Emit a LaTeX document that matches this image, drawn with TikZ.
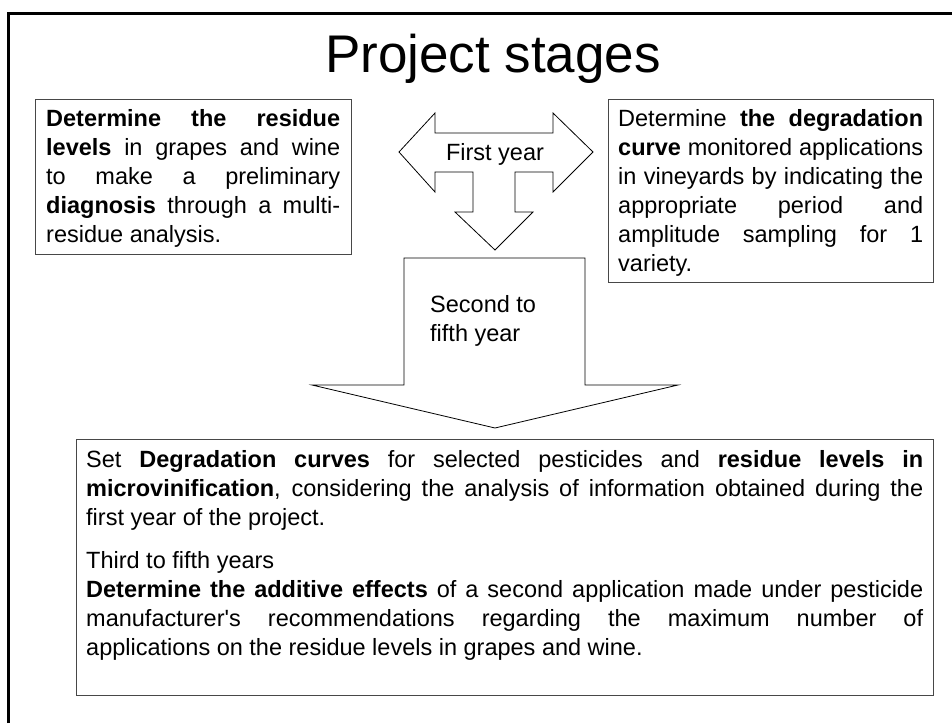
\documentclass[tikz,border=0pt]{standalone}
\usepackage{fontspec}
\setmainfont{Liberation Sans}[Ligatures=TeXOff]
\begin{document}
\begin{tikzpicture}[x=1pt,y=-1pt,
  framebox/.style={draw=black!72, line width=1.3pt, inner sep=0pt, anchor=north west},
  bodytext/.style={font=\fontsize{23.5}{29}\selectfont, inner sep=0pt, anchor=north west, align=justify},
  label/.style={font=\fontsize{23.5}{29}\selectfont, inner sep=0pt},
  arrowshape/.style={draw=black, line width=0.8pt, fill=white, line join=miter}]
\useasboundingbox (0,0) rectangle (952,723);
\fill[white] (0,0) rectangle (952,723);

% outer slide frame (only left and top edges fall inside the page)
\draw[line width=3pt, black] (8,723) -- (8,13) -- (952,13);

% title
\node[font=\fontsize{53}{60}\selectfont, inner sep=0pt, anchor=base] (title) at (493,72) {Project stages};

% three-way arrow: left, right and down
\coordinate (lt) at (399,152);
\coordinate (rt) at (593,152);
\coordinate (dt) at (495,250);
\draw[arrowshape] (lt) -- (435,113) -- (435,133) -- (553,133) -- (553,113) -- (rt)
  -- (553,192) -- (553,172) -- (515,172) -- (515,212) -- (533,212) -- (dt)
  -- (455,212) -- (473,212) -- (473,172) -- (435,172) -- (435,192) -- cycle;
\node[label, anchor=base] (first) at (495,160) {First year};

% large down arrow
\coordinate (bt) at (495,428);
\draw[arrowshape] (404,258) -- (585,258) -- (585,385) -- (678,385) -- (bt)
  -- (312,385) -- (404,385) -- cycle;
\node[label, anchor=base west, align=left] (second) at (430,341) {Second to\\fifth year};

% left box
\node[framebox, minimum width=316pt, minimum height=155pt] (lbox) at (35,99) {};
\node[bodytext, text width=294pt] (ltxt) at (46,109)
  {\textbf{Determine the residue}\linebreak
   \textbf{levels} in grapes and wine\linebreak
   to make a preliminary\linebreak
   \textbf{diagnosis} through a multi-\linebreak
   residue analysis.};

% right box
\node[framebox, minimum width=325pt, minimum height=183pt] (rbox) at (608,99) {};
\node[bodytext, text width=305pt] (rtxt) at (618,109)
  {Determine \textbf{the degradation}\linebreak
   \textbf{curve} monitored applications\linebreak
   in vineyards by indicating the\linebreak
   appropriate period and\linebreak
   amplitude sampling for 1\linebreak
   variety.};

% bottom box
\node[framebox, minimum width=857pt, minimum height=256pt] (bbox) at (76,439) {};
\node[bodytext, text width=837pt] (btxt) at (86,450)
  {Set \textbf{Degradation curves} for selected pesticides and \textbf{residue levels in}\linebreak
   \textbf{microvinification}, considering the analysis of information obtained during the\linebreak
   first year of the project.\par\vspace{14pt}
   Third to fifth years\newline
   \textbf{Determine the additive effects} of a second application made under pesticide\linebreak
   manufacturer's recommendations regarding the maximum number of\linebreak
   applications on the residue levels in grapes and wine.};
\end{tikzpicture}
\end{document}
